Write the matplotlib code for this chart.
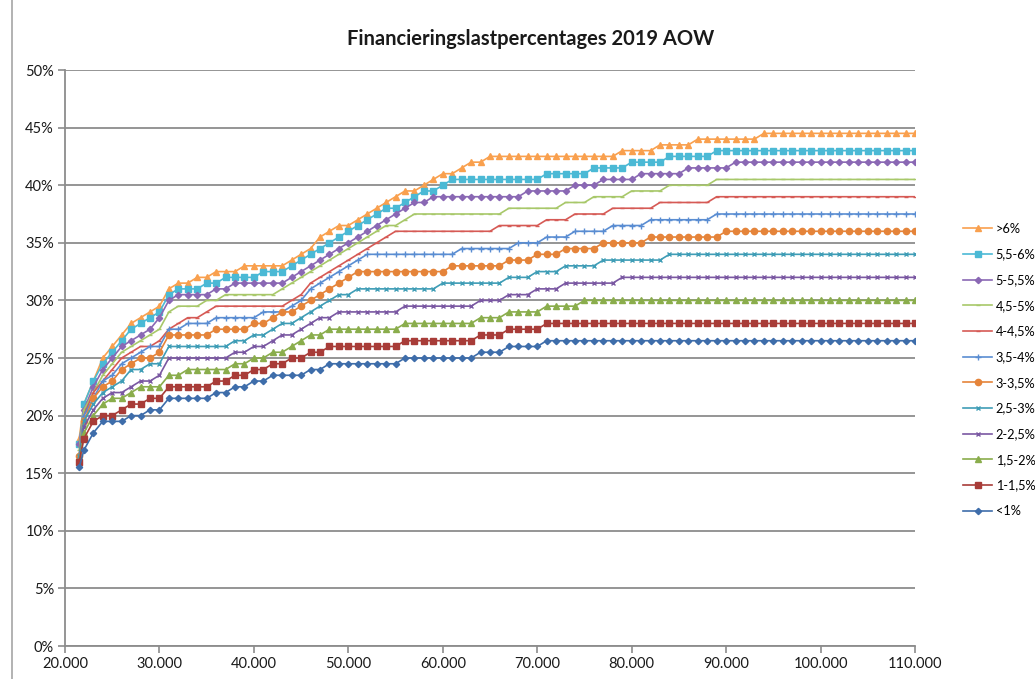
import matplotlib
matplotlib.use("Agg")
import matplotlib.pyplot as plt
from matplotlib.ticker import FuncFormatter, MultipleLocator
from matplotlib.lines import Line2D

plt.rcParams["font.family"] = ["Lato", "DejaVu Sans"]

# income in thousands
income_k = [21.5,
            22, 23, 24, 25, 26, 27, 28, 29,
            30, 31, 32, 33, 34, 35, 36, 37, 38, 39,
            40, 41, 42, 43, 44, 45, 46, 47, 48, 49,
            50, 51, 52, 53, 54, 55, 56, 57, 58, 59,
            60, 61, 62, 63, 64, 65, 66, 67, 68, 69,
            70, 71, 72, 73, 74, 75, 76, 77, 78, 79,
            80, 81, 82, 83, 84, 85, 86, 87, 88, 89,
            90, 91, 92, 93, 94, 95, 96, 97, 98, 99,
            100, 101, 102, 103, 104, 105, 106, 107, 108, 109, 110]

lt1 = [15.5,
       17.0, 18.5, 19.5, 19.5, 19.5, 20.0, 20.0, 20.5,
       20.5, 21.5, 21.5, 21.5, 21.5, 21.5, 22.0, 22.0, 22.5, 22.5,
       23.0, 23.0, 23.5, 23.5, 23.5, 23.5, 24.0, 24.0, 24.5, 24.5,
       24.5, 24.5, 24.5, 24.5, 24.5, 24.5, 25.0, 25.0, 25.0, 25.0,
       25.0, 25.0, 25.0, 25.0, 25.5, 25.5, 25.5, 26.0, 26.0, 26.0,
       26.0, 26.5, 26.5, 26.5, 26.5, 26.5, 26.5, 26.5, 26.5, 26.5,
       26.5, 26.5, 26.5, 26.5, 26.5, 26.5, 26.5, 26.5, 26.5, 26.5,
       26.5, 26.5, 26.5, 26.5, 26.5, 26.5, 26.5, 26.5, 26.5, 26.5,
       26.5, 26.5, 26.5, 26.5, 26.5, 26.5, 26.5, 26.5, 26.5, 26.5, 26.5]

r1_15 = [16.0,
         18.0, 19.5, 20.0, 20.0, 20.5, 21.0, 21.0, 21.5,
         21.5, 22.5, 22.5, 22.5, 22.5, 22.5, 23.0, 23.0, 23.5, 23.5,
         24.0, 24.0, 24.5, 24.5, 25.0, 25.0, 25.5, 25.5, 26.0, 26.0,
         26.0, 26.0, 26.0, 26.0, 26.0, 26.0, 26.5, 26.5, 26.5, 26.5,
         26.5, 26.5, 26.5, 26.5, 27.0, 27.0, 27.0, 27.5, 27.5, 27.5,
         27.5, 28.0, 28.0, 28.0, 28.0, 28.0, 28.0, 28.0, 28.0, 28.0,
         28.0, 28.0, 28.0, 28.0, 28.0, 28.0, 28.0, 28.0, 28.0, 28.0,
         28.0, 28.0, 28.0, 28.0, 28.0, 28.0, 28.0, 28.0, 28.0, 28.0,
         28.0, 28.0, 28.0, 28.0, 28.0, 28.0, 28.0, 28.0, 28.0, 28.0, 28.0]

r15_2 = [16.0,
         18.5, 20.0, 21.0, 21.5, 21.5, 22.0, 22.5, 22.5,
         22.5, 23.5, 23.5, 24.0, 24.0, 24.0, 24.0, 24.0, 24.5, 24.5,
         25.0, 25.0, 25.5, 25.5, 26.0, 26.5, 27.0, 27.0, 27.5, 27.5,
         27.5, 27.5, 27.5, 27.5, 27.5, 27.5, 28.0, 28.0, 28.0, 28.0,
         28.0, 28.0, 28.0, 28.0, 28.5, 28.5, 28.5, 29.0, 29.0, 29.0,
         29.0, 29.5, 29.5, 29.5, 29.5, 30.0, 30.0, 30.0, 30.0, 30.0,
         30.0, 30.0, 30.0, 30.0, 30.0, 30.0, 30.0, 30.0, 30.0, 30.0,
         30.0, 30.0, 30.0, 30.0, 30.0, 30.0, 30.0, 30.0, 30.0, 30.0,
         30.0, 30.0, 30.0, 30.0, 30.0, 30.0, 30.0, 30.0, 30.0, 30.0, 30.0]

r2_25 = [16.0,
         19.0, 20.5, 21.5, 22.0, 22.0, 22.5, 23.0, 23.0,
         23.5, 25.0, 25.0, 25.0, 25.0, 25.0, 25.0, 25.0, 25.5, 25.5,
         26.0, 26.0, 26.5, 27.0, 27.0, 27.5, 28.0, 28.5, 28.5, 29.0,
         29.0, 29.0, 29.0, 29.0, 29.0, 29.0, 29.5, 29.5, 29.5, 29.5,
         29.5, 29.5, 29.5, 29.5, 30.0, 30.0, 30.0, 30.5, 30.5, 30.5,
         31.0, 31.0, 31.0, 31.5, 31.5, 31.5, 31.5, 31.5, 31.5, 32.0,
         32.0, 32.0, 32.0, 32.0, 32.0, 32.0, 32.0, 32.0, 32.0, 32.0,
         32.0, 32.0, 32.0, 32.0, 32.0, 32.0, 32.0, 32.0, 32.0, 32.0,
         32.0, 32.0, 32.0, 32.0, 32.0, 32.0, 32.0, 32.0, 32.0, 32.0, 32.0]

r25_3 = [16.5,
         19.5, 21.0, 22.0, 22.5, 23.0, 24.0, 24.0, 24.5,
         24.5, 26.0, 26.0, 26.0, 26.0, 26.0, 26.0, 26.0, 26.5, 26.5,
         27.0, 27.0, 27.5, 28.0, 28.0, 28.5, 29.0, 29.5, 30.0, 30.5,
         30.5, 31.0, 31.0, 31.0, 31.0, 31.0, 31.0, 31.0, 31.0, 31.0,
         31.5, 31.5, 31.5, 31.5, 31.5, 31.5, 31.5, 32.0, 32.0, 32.0,
         32.5, 32.5, 32.5, 33.0, 33.0, 33.0, 33.0, 33.5, 33.5, 33.5,
         33.5, 33.5, 33.5, 33.5, 34.0, 34.0, 34.0, 34.0, 34.0, 34.0,
         34.0, 34.0, 34.0, 34.0, 34.0, 34.0, 34.0, 34.0, 34.0, 34.0,
         34.0, 34.0, 34.0, 34.0, 34.0, 34.0, 34.0, 34.0, 34.0, 34.0, 34.0]

r3_35 = [16.5,
         19.5, 21.5, 22.5, 23.0, 24.0, 24.5, 25.0, 25.0,
         25.5, 27.0, 27.0, 27.0, 27.0, 27.0, 27.5, 27.5, 27.5, 27.5,
         28.0, 28.0, 28.5, 29.0, 29.0, 29.5, 30.0, 30.5, 31.0, 31.5,
         32.0, 32.5, 32.5, 32.5, 32.5, 32.5, 32.5, 32.5, 32.5, 32.5,
         32.5, 33.0, 33.0, 33.0, 33.0, 33.0, 33.0, 33.5, 33.5, 33.5,
         34.0, 34.0, 34.0, 34.5, 34.5, 34.5, 34.5, 35.0, 35.0, 35.0,
         35.0, 35.0, 35.5, 35.5, 35.5, 35.5, 35.5, 35.5, 35.5, 35.5,
         36.0, 36.0, 36.0, 36.0, 36.0, 36.0, 36.0, 36.0, 36.0, 36.0,
         36.0, 36.0, 36.0, 36.0, 36.0, 36.0, 36.0, 36.0, 36.0, 36.0, 36.0]

r35_4 = [16.5,
         20.0, 21.5, 23.0, 23.5, 24.5, 25.0, 25.5, 26.0,
         26.0, 27.5, 27.5, 28.0, 28.0, 28.0, 28.5, 28.5, 28.5, 28.5,
         28.5, 29.0, 29.0, 29.0, 29.5, 30.0, 31.0, 31.5, 32.0, 32.5,
         33.0, 33.5, 34.0, 34.0, 34.0, 34.0, 34.0, 34.0, 34.0, 34.0,
         34.0, 34.0, 34.5, 34.5, 34.5, 34.5, 34.5, 34.5, 35.0, 35.0,
         35.0, 35.5, 35.5, 35.5, 36.0, 36.0, 36.0, 36.0, 36.5, 36.5,
         36.5, 36.5, 37.0, 37.0, 37.0, 37.0, 37.0, 37.0, 37.0, 37.5,
         37.5, 37.5, 37.5, 37.5, 37.5, 37.5, 37.5, 37.5, 37.5, 37.5,
         37.5, 37.5, 37.5, 37.5, 37.5, 37.5, 37.5, 37.5, 37.5, 37.5, 37.5]

r4_45 = [16.5,
         20.0, 22.0, 23.0, 24.0, 25.0, 25.5, 26.0, 26.0,
         26.5, 27.5, 28.0, 28.5, 28.5, 29.0, 29.5, 29.5, 29.5, 29.5,
         29.5, 29.5, 29.5, 29.5, 30.0, 30.5, 31.5, 32.0, 32.5, 33.0,
         33.5, 34.0, 34.5, 35.0, 35.5, 36.0, 36.0, 36.0, 36.0, 36.0,
         36.0, 36.0, 36.0, 36.0, 36.0, 36.0, 36.5, 36.5, 36.5, 36.5,
         36.5, 37.0, 37.0, 37.0, 37.5, 37.5, 37.5, 37.5, 38.0, 38.0,
         38.0, 38.0, 38.0, 38.5, 38.5, 38.5, 38.5, 38.5, 38.5, 39.0,
         39.0, 39.0, 39.0, 39.0, 39.0, 39.0, 39.0, 39.0, 39.0, 39.0,
         39.0, 39.0, 39.0, 39.0, 39.0, 39.0, 39.0, 39.0, 39.0, 39.0, 39.0]

r45_5 = [17.0,
         20.5, 22.0, 23.5, 24.5, 25.5, 26.0, 26.5, 27.0,
         27.5, 29.0, 29.5, 29.5, 29.5, 30.0, 30.0, 30.5, 30.5, 30.5,
         30.5, 30.5, 30.5, 31.0, 31.5, 32.0, 32.5, 33.0, 33.5, 34.0,
         34.5, 35.0, 35.5, 36.0, 36.5, 36.5, 37.0, 37.5, 37.5, 37.5,
         37.5, 37.5, 37.5, 37.5, 37.5, 37.5, 37.5, 38.0, 38.0, 38.0,
         38.0, 38.0, 38.0, 38.5, 38.5, 38.5, 39.0, 39.0, 39.0, 39.0,
         39.5, 39.5, 39.5, 39.5, 40.0, 40.0, 40.0, 40.0, 40.0, 40.5,
         40.5, 40.5, 40.5, 40.5, 40.5, 40.5, 40.5, 40.5, 40.5, 40.5,
         40.5, 40.5, 40.5, 40.5, 40.5, 40.5, 40.5, 40.5, 40.5, 40.5, 40.5]

r5_55 = [17.5,
         20.5, 22.5, 24.0, 25.0, 26.0, 26.5, 27.0, 27.5,
         28.5, 30.0, 30.5, 30.5, 30.5, 30.5, 31.0, 31.0, 31.5, 31.5,
         31.5, 31.5, 31.5, 31.5, 32.0, 32.5, 33.0, 33.5, 34.0, 34.5,
         35.0, 35.5, 36.0, 36.5, 37.0, 37.5, 38.0, 38.5, 38.5, 39.0,
         39.0, 39.0, 39.0, 39.0, 39.0, 39.0, 39.0, 39.0, 39.0, 39.5,
         39.5, 39.5, 39.5, 39.5, 40.0, 40.0, 40.0, 40.5, 40.5, 40.5,
         40.5, 41.0, 41.0, 41.0, 41.0, 41.0, 41.5, 41.5, 41.5, 41.5,
         41.5, 42.0, 42.0, 42.0, 42.0, 42.0, 42.0, 42.0, 42.0, 42.0,
         42.0, 42.0, 42.0, 42.0, 42.0, 42.0, 42.0, 42.0, 42.0, 42.0, 42.0]

r55_6 = [17.5,
         21.0, 23.0, 24.5, 25.5, 26.5, 27.5, 28.0, 28.5,
         29.0, 30.5, 31.0, 31.0, 31.0, 31.5, 31.5, 32.0, 32.0, 32.0,
         32.0, 32.5, 32.5, 32.5, 33.0, 33.5, 34.0, 34.5, 35.0, 35.5,
         36.0, 36.5, 37.0, 37.5, 38.0, 38.0, 38.5, 39.0, 39.5, 39.5,
         40.0, 40.5, 40.5, 40.5, 40.5, 40.5, 40.5, 40.5, 40.5, 40.5,
         40.5, 41.0, 41.0, 41.0, 41.0, 41.0, 41.5, 41.5, 41.5, 41.5,
         42.0, 42.0, 42.0, 42.0, 42.5, 42.5, 42.5, 42.5, 42.5, 43.0,
         43.0, 43.0, 43.0, 43.0, 43.0, 43.0, 43.0, 43.0, 43.0, 43.0,
         43.0, 43.0, 43.0, 43.0, 43.0, 43.0, 43.0, 43.0, 43.0, 43.0, 43.0]

gt6 = [18.0,
       21.0, 23.0, 25.0, 26.0, 27.0, 28.0, 28.5, 29.0,
       29.5, 31.0, 31.5, 31.5, 32.0, 32.0, 32.5, 32.5, 32.5, 33.0,
       33.0, 33.0, 33.0, 33.0, 33.5, 34.0, 34.5, 35.5, 36.0, 36.5,
       36.5, 37.0, 37.5, 38.0, 38.5, 39.0, 39.5, 39.5, 40.0, 40.5,
       41.0, 41.0, 41.5, 42.0, 42.0, 42.5, 42.5, 42.5, 42.5, 42.5,
       42.5, 42.5, 42.5, 42.5, 42.5, 42.5, 42.5, 42.5, 42.5, 43.0,
       43.0, 43.0, 43.0, 43.5, 43.5, 43.5, 43.5, 44.0, 44.0, 44.0,
       44.0, 44.0, 44.0, 44.0, 44.5, 44.5, 44.5, 44.5, 44.5, 44.5,
       44.5, 44.5, 44.5, 44.5, 44.5, 44.5, 44.5, 44.5, 44.5, 44.5, 44.5]

# legend order top to bottom
labels = [">6%", "5,5-6%", "5-5,5%", "4,5-5%", "4-4,5%", "3,5-4%",
          "3-3,5%", "2,5-3%", "2-2,5%", "1,5-2%", "1-1,5%", "<1%"]
series = [gt6, r55_6, r5_55, r45_5, r4_45, r35_4,
          r3_35, r25_3, r2_25, r15_2, r1_15, lt1]
colors = ["#F9A04E", "#4BB9D5", "#8A68B4", "#A8C86A", "#D65A55", "#5A8DD2",
          "#E5843A", "#3F9DB6", "#7A58A2", "#8AAD4C", "#A83C38", "#3E6DAA"]
markers = ["^", "s", "D", "_", "_", "+", "o", "x", "x", "^", "s", "D"]
msizes = [4.5, 4.5, 3.2, 3.5, 3.0, 4.5, 4.5, 3.5, 3.5, 4.5, 4.5, 3.2]

x = [v * 1000 for v in income_k]

fig = plt.figure(figsize=(10.35, 6.79), dpi=100)
ax = fig.add_axes([65 / 1035, 33 / 679, 850 / 1035, 576 / 679])

grid_c = "#8C8C8C"
for lab, ys, c, m, ms in zip(labels, series, colors, markers, msizes):
    ax.plot(x, ys, color=c, lw=1.2, marker=m, markersize=ms,
            markeredgewidth=1.0, markerfacecolor=c, markeredgecolor=c,
            label=lab, zorder=3)

ax.set_xlim(20000, 110000)
ax.set_ylim(0, 50)
ax.xaxis.set_major_locator(MultipleLocator(10000))
ax.yaxis.set_major_locator(MultipleLocator(5))
ax.xaxis.set_major_formatter(FuncFormatter(lambda v, p: f"{int(v):,}".replace(",", ".")))
ax.yaxis.set_major_formatter(FuncFormatter(lambda v, p: f"{int(round(v))}%"))

ax.grid(axis="y", color=grid_c, lw=1.3, zorder=0)
ax.set_axisbelow(True)
for s in ["top", "right"]:
    ax.spines[s].set_visible(False)
for s in ["left", "bottom"]:
    ax.spines[s].set_color(grid_c)
    ax.spines[s].set_linewidth(1.3)
ax.tick_params(axis="both", direction="out", length=5, width=1.2,
               color=grid_c, labelsize=10.5, labelcolor="#1a1a1a", pad=3)

ax.set_title("Financieringslastpercentages 2019 AOW", fontsize=14.5,
             fontweight="bold", color="#1a1a1a", pad=18, x=0.548)

# legend to the right of the plot, centred a bit below the middle
leg = fig.legend(loc="center left", bbox_to_anchor=(963 / 1035, 309 / 679),
                 frameon=False, fontsize=9.2, handlelength=2.3,
                 labelspacing=1.07, handletextpad=0.25, borderaxespad=0,
                 borderpad=0)

# chart area border on the left
fig.add_artist(Line2D([12 / 1035, 12 / 1035], [0, 1], color="#A6A6A6", lw=1.2))

fig.savefig("out.png", dpi=100)
